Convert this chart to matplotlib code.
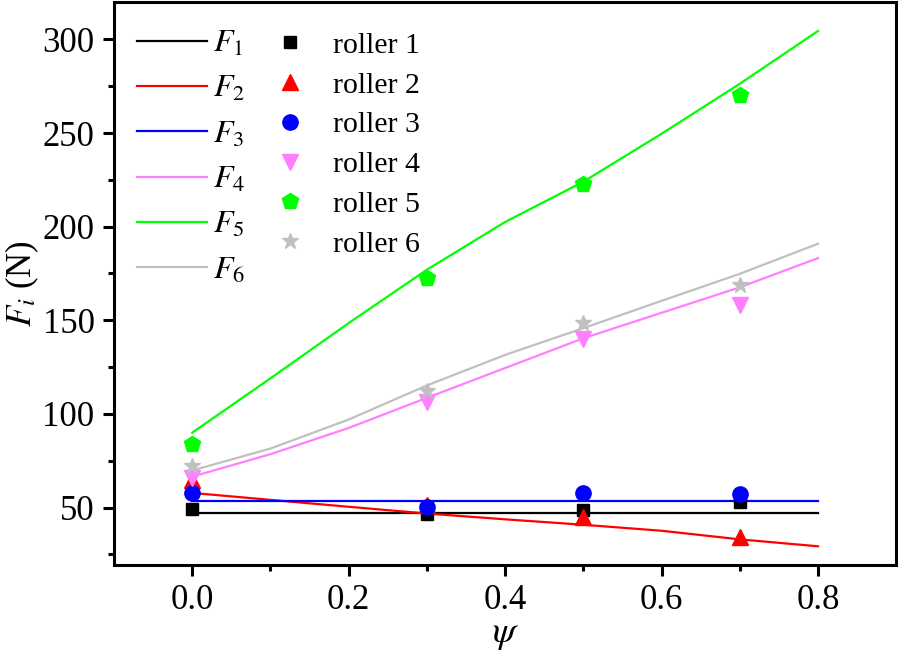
# -*- coding: utf-8 -*-
"""
Roller forces F_i versus psi: model curves and measured points
"""

import numpy as np
import matplotlib
matplotlib.use('Agg')
import matplotlib.pyplot as plt

# =============================================================================
# Define variables
# =============================================================================
# model curves
psi_curve = [0.0, 0.1, 0.2, 0.3, 0.4, 0.5, 0.6, 0.7, 0.8]
f1_curve = [47.3, 47.3, 47.3, 47.3, 47.3, 47.3, 47.3, 47.3, 47.3]
f2_curve = [57.8, 54.1, 50.4, 46.8, 43.7, 40.8, 37.6, 33.0, 29.3]
f3_curve = [53.7, 53.7, 53.7, 53.7, 53.7, 53.7, 53.7, 53.7, 53.7]
f4_curve = [66.5, 78.5, 92.5, 108.6, 124.5, 140.4, 154.0, 167.6, 183.2]
f5_curve = [90.0, 119.0, 148.5, 177.0, 202.5, 224.0, 249.6, 276.3, 304.5]
f6_curve = [69.8, 81.5, 97.0, 115.2, 131.5, 145.8, 160.4, 174.8, 190.9]

# measured points
psi_meas = [0.0, 0.3, 0.5, 0.7]
roller1 = [49.0, 46.5, 48.5, 53.0]
roller2 = [64.5, 51.6, 44.8, 34.0]
roller3 = [57.6, 50.2, 57.6, 57.0]
roller4 = [66.0, 106.3, 140.0, 157.9]
roller5 = [84.0, 172.5, 223.0, 270.5]
roller6 = [72.0, 112.5, 148.4, 168.6]

curve_labels = ['$F_1$', '$F_2$', '$F_3$', '$F_4$', '$F_5$', '$F_6$']
point_labels = ['roller 1', 'roller 2', 'roller 3', 'roller 4',
                'roller 5', 'roller 6']
colours = ['#000000', '#FF0000', '#0000FF', '#FF80FF', '#00FF00', '#C0C0C0']
markers = ['s', '^', 'o', 'v', 'p', '*']
msizes = [9, 12, 11, 12, 12, 12]

# =============================================================================
# Start of code
# =============================================================================
if __name__ == "__main__":
    plt.rcParams['font.family'] = ['Liberation Serif', 'DejaVu Serif']
    plt.rcParams['mathtext.fontset'] = 'stix'

    curves = [f1_curve, f2_curve, f3_curve, f4_curve, f5_curve, f6_curve]
    points = [roller1, roller2, roller3, roller4, roller5, roller6]

    fig = plt.figure(figsize=(8.98, 6.57), dpi=100)
    ax = fig.add_axes([0.127, 0.14, 0.871, 0.857])

    line_handles = []
    for it in range(len(curves)):
        ln, = ax.plot(psi_curve, curves[it], color=colours[it], lw=1.6,
                      label=curve_labels[it], zorder=2)
        line_handles.append(ln)

    point_handles = []
    for it in range(len(points)):
        pt, = ax.plot(psi_meas, points[it], ls='none', marker=markers[it],
                      ms=msizes[it], color=colours[it], mec=colours[it],
                      label=point_labels[it], zorder=3)
        point_handles.append(pt)

    ax.set_xlim(-0.1, 0.9)
    ax.set_ylim(19.3, 320)
    ax.set_xticks([0.0, 0.2, 0.4, 0.6, 0.8])
    ax.set_xticks([0.1, 0.3, 0.5, 0.7], minor=True)
    ax.set_yticks([50, 100, 150, 200, 250, 300])
    ax.set_yticks([25, 75, 125, 175, 225, 275], minor=True)
    ax.set_xticklabels(['0.0', '0.2', '0.4', '0.6', '0.8'])

    ax.tick_params(which='major', direction='out', length=8, width=2.2,
                   labelsize=25, pad=6, top=False, right=False)
    ax.tick_params(which='minor', direction='out', length=4.5, width=2.2,
                   top=False, right=False)
    for sp in ax.spines.values():
        sp.set_linewidth(2.2)

    ax.set_xlabel(r'$\psi$', fontsize=27, labelpad=0)
    ax.set_ylabel(r'$F_i$ (N)', fontsize=25, labelpad=1)

    leg1 = ax.legend(handles=line_handles, loc='upper left',
                     bbox_to_anchor=(0.0124, 0.974), frameon=False,
                     fontsize=23, handlelength=2.2, handletextpad=0.2,
                     labelspacing=0.5, borderaxespad=0.0)
    ax.add_artist(leg1)
    ax.legend(handles=point_handles, loc='upper left',
              bbox_to_anchor=(0.1905, 0.968), frameon=False, fontsize=21.5,
              handlelength=1.0, handletextpad=0.94, labelspacing=0.43,
              borderaxespad=0.0)

    fig.savefig('out.png', dpi=100)
    plt.close()

# =============================================================================
# End of code
# =============================================================================
